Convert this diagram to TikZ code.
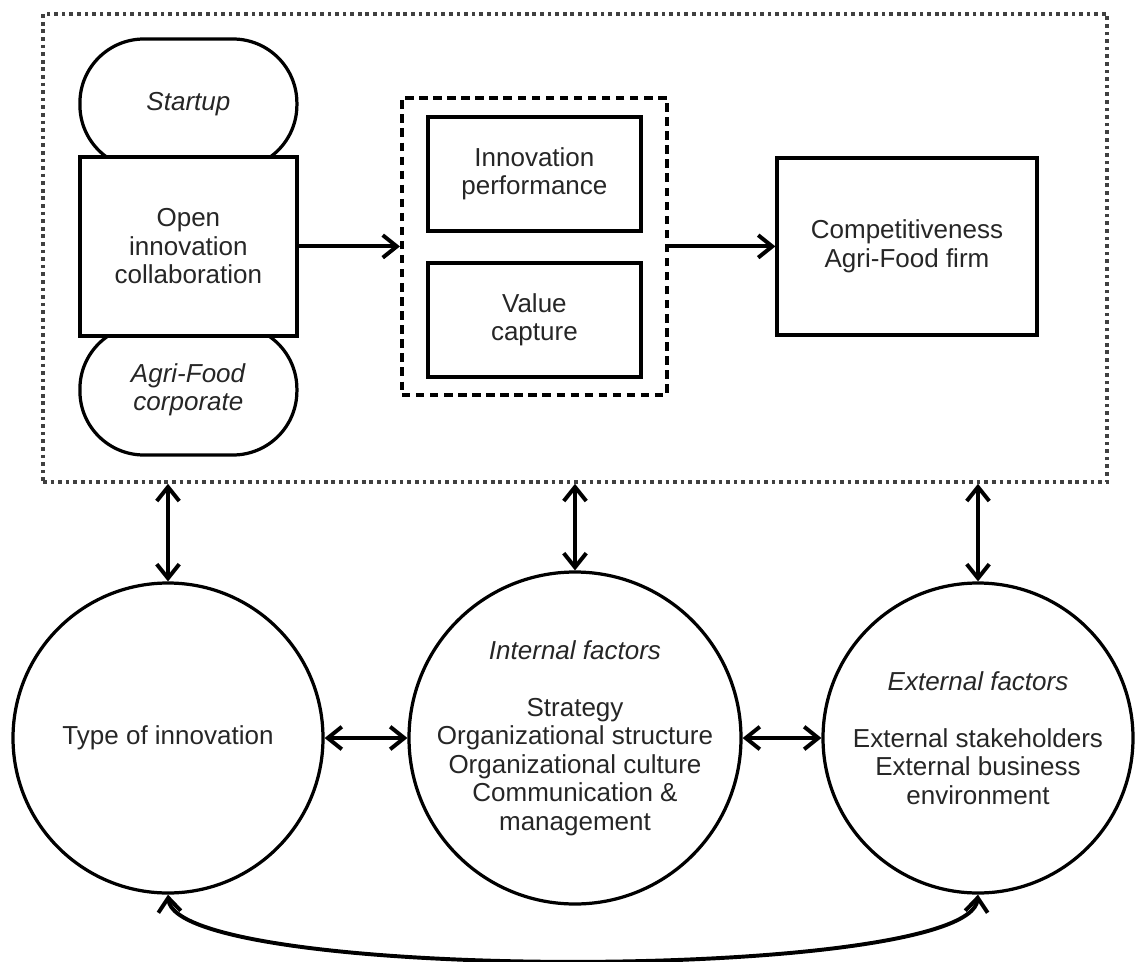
\documentclass[tikz,border=0pt]{standalone}
\usepackage{fontspec}
\setmainfont{Liberation Sans}
\usetikzlibrary{arrows.meta}
\begin{document}
\begin{tikzpicture}[font=\fontsize{18.5}{20.3}\selectfont]
\useasboundingbox (0,0) rectangle (28.375,-24.05);
\tikzstyle{lien}=[->,>={Straight Barb[length=10pt,width=16pt]},line width=2.8pt]
\tikzstyle{bilien}=[lien,<->]
\tikzset{boite/.style={draw,line width=2.3pt,fill=white,align=center,text=black!85,minimum width=#1},
boite/.default={5.425cm},
bulle/.style={draw,line width=2.3pt,rounded corners=1.6cm,align=center,text=black!85,minimum width=5.425cm,minimum height=3.25cm},
cercle/.style={draw,circle,line width=2.3pt,align=center,text=black!85,inner sep=-2mm,minimum size=#1},
cercle/.default={7.75cm}}
\node[draw=black!75,line width=2.6pt,dash pattern=on 2.6pt off 2.8pt,minimum width=26.6cm,minimum height=11.7cm] (cadre) at (14.375,-6.2) {};
\node[bulle] (SU) at (4.71,-2.6) {\textit{Startup}};
\node[bulle] (AF) at (4.71,-9.75) {\textit{Agri-Food}\\\textit{corporate}};
\node[boite,minimum height=4.475cm] (OI) at (4.71,-6.16) {Open\\innovation\\collaboration};
\node[draw,line width=2.8pt,dash pattern=on 6pt off 4pt,minimum width=6.625cm,minimum height=7.425cm] (perf) at (13.36,-6.16) {};
\node[boite=5.325cm,minimum height=2.85cm] (IP) at (13.36,-4.35) {Innovation\\performance};
\node[boite=5.325cm,minimum height=2.85cm] (VC) at (13.36,-8.0) {Value\\capture};
\node[boite=6.5cm,minimum height=4.425cm] (CF) at (22.675,-6.16) {Competitiveness\\Agri-Food firm};
\node[cercle] (TI) at (4.2,-18.45) {Type of innovation};
\node[cercle=8.3cm] (IF) at (14.375,-18.45) {\textit{Internal factors}\\[\baselineskip]Strategy\\Organizational structure\\Organizational culture\\Communication \&\\management};
\node[cercle] (EF) at (24.45,-18.45) {\textit{External factors}\\[\baselineskip]External stakeholders\\External business\\environment};

\draw[lien] (OI) -- (perf);
\draw[lien] (perf) -- (CF);
\draw[bilien] (TI |- cadre.south) -- (TI);
\draw[bilien] (IF |- cadre.south) -- (IF);
\draw[bilien] (EF |- cadre.south) -- (EF);
\draw[bilien] (TI) -- (IF);
\draw[bilien] (IF) -- (EF);
\draw[bilien] (TI.south) .. controls +(0.2,-2.2) and +(-0.2,-2.2) .. (EF.south);
\end{tikzpicture}
\end{document}
